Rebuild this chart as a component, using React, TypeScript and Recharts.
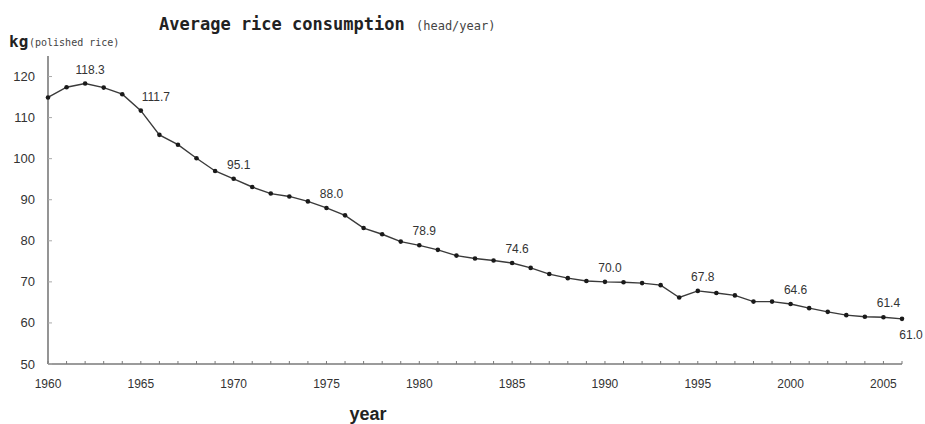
import React from "react";
import { LineChart, Line, XAxis, YAxis, LabelList } from "recharts";

const years = [
  1960, 1961, 1962, 1963, 1964, 1965, 1966, 1967, 1968, 1969,
  1970, 1971, 1972, 1973, 1974, 1975, 1976, 1977, 1978, 1979,
  1980, 1981, 1982, 1983, 1984, 1985, 1986, 1987, 1988, 1989,
  1990, 1991, 1992, 1993, 1994, 1995, 1996, 1997, 1998, 1999,
  2000, 2001, 2002, 2003, 2004, 2005, 2006,
];
const consumption = [
  114.9, 117.4, 118.3, 117.3, 115.7, 111.7, 105.8, 103.4, 100.1, 97.0,
  95.1, 93.1, 91.5, 90.8, 89.6, 88.0, 86.2, 83.1, 81.6, 79.8,
  78.9, 77.8, 76.4, 75.7, 75.2, 74.6, 73.4, 71.9, 70.9, 70.2,
  70.0, 69.9, 69.7, 69.2, 66.2, 67.8, 67.3, 66.7, 65.2, 65.2,
  64.6, 63.6, 62.7, 61.9, 61.5, 61.4, 61.0,
];
const labeledYears = [1962, 1965, 1970, 1975, 1980, 1985, 1990, 1995, 2000, 2005, 2006];
const labelBelowYears = [2006];
const labelRightYears = [1965];
const yTicks = [50, 60, 70, 80, 90, 100, 110, 120];
const xLabelYears = [1960, 1965, 1970, 1975, 1980, 1985, 1990, 1995, 2000, 2005];

const data = years.map((y, i) => ({ year: y, value: consumption[i] }));

const AXIS = "#7a7a7a";
const TXT = "#333";

const XTick = (props: any) => {
  const { x, y, payload } = props;
  if (!xLabelYears.includes(payload.value)) return null;
  return (
    <text x={x} y={y + 24} textAnchor="middle" fontSize={12} fill={TXT} fontFamily="Liberation Sans, Arial, sans-serif">
      {payload.value}
    </text>
  );
};

const YTick = (props: any) => {
  const { x, y, payload } = props;
  return (
    <text x={x} y={y + 4.5} textAnchor="end" fontSize={13} fill={TXT} fontFamily="Liberation Sans, Arial, sans-serif">
      {payload.value}
    </text>
  );
};

const Dot = (props: any) => {
  const { cx, cy } = props;
  return <circle cx={cx} cy={cy} r={2.3} fill="#1a1a1a" />;
};

const ValueLabel = (props: any) => {
  const { x, y, index } = props;
  const yr = years[index];
  if (!labeledYears.includes(yr)) return null;
  const below = labelBelowYears.includes(yr);
  const right = labelRightYears.includes(yr);
  return (
    <text
      x={x + (below ? 9 : right ? 15 : 5)}
      y={below ? y + 20 : y - 10}
      textAnchor="middle"
      fontSize={12}
      fill={TXT}
      fontFamily="Liberation Sans, Arial, sans-serif"
    >
      {consumption[index].toFixed(1)}
    </text>
  );
};

export default function App() {
  return (
    <div style={{ position: "absolute", left: 0, top: 0, width: 925, height: 424, background: "#fff" }}>
      <LineChart
        width={925}
        height={424}
        data={data}
        margin={{ top: 56, right: 23, bottom: 30, left: 0 }}
      >
        <XAxis
          dataKey="year"
          type="number"
          domain={[1960, 2006]}
          ticks={years}
          interval={0}
          height={30}
          tick={<XTick />}
          tickSize={-3}
          tickMargin={3}
          axisLine={{ stroke: AXIS, strokeWidth: 1.6 }}
          tickLine={{ stroke: AXIS, strokeWidth: 1 }}
          allowDecimals={false}
        />
        <YAxis
          type="number"
          domain={[50, 125]}
          ticks={yTicks}
          width={48}
          tick={<YTick />}
          tickSize={-4}
          tickMargin={17}
          axisLine={{ stroke: AXIS, strokeWidth: 1.6 }}
          tickLine={{ stroke: "#aaa", strokeWidth: 1 }}
          allowDataOverflow
        />
        <Line
          type="linear"
          dataKey="value"
          stroke="#3a3a3a"
          strokeWidth={1.4}
          dot={<Dot />}
          isAnimationActive={false}
        >
          <LabelList dataKey="value" content={<ValueLabel />} />
        </Line>
      </LineChart>
      <svg
        width={925}
        height={424}
        style={{ position: "absolute", left: 0, top: 0, pointerEvents: "none" }}
      >
        <text x={159} y={30} fontSize={17} fontWeight="bold" fill="#222" fontFamily="DejaVu Sans Mono, monospace">
          Average rice consumption
        </text>
        <text x={416} y={30} fontSize={12} fill="#444" fontFamily="DejaVu Sans Mono, monospace">
          (head/year)
        </text>
        <text x={9} y={47} fontSize={16} fontWeight="bold" fill="#222" fontFamily="DejaVu Sans Mono, monospace">
          kg
        </text>
        <text x={29} y={46} fontSize={10} fill="#444" fontFamily="DejaVu Sans Mono, monospace">
          (polished rice)
        </text>
        <text x={368} y={420} textAnchor="middle" fontSize={18} fontWeight="bold" fill="#222" fontFamily="Liberation Sans, Arial, sans-serif">
          year
        </text>
      </svg>
    </div>
  );
}
